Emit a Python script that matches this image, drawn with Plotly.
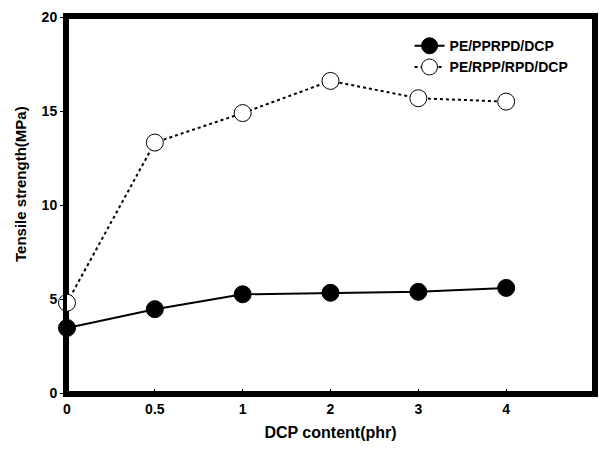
import plotly.graph_objects as go

categories = ["0", "0.5", "1", "2", "3", "4"]
pe_pprpd_dcp = [3.46, 4.46, 5.25, 5.33, 5.38, 5.59]
pe_rpp_rpd_dcp = [4.8, 13.32, 14.89, 16.6, 15.68, 15.5]
y_ticks = [0, 5, 10, 15, 20]

font_family = "Liberation Sans, Arial, sans-serif"

fig = go.Figure()
fig.add_trace(go.Scatter(
    x=categories, y=pe_pprpd_dcp, name="<b>PE/PPRPD/DCP</b>",
    mode="lines+markers",
    line=dict(color="black", width=2),
    marker=dict(symbol="circle", size=17, color="black", line=dict(color="black", width=1)),
    cliponaxis=False,
))
fig.add_trace(go.Scatter(
    x=categories, y=pe_rpp_rpd_dcp, name="<b>PE/RPP/RPD/DCP</b>",
    mode="lines+markers",
    line=dict(color="black", width=2, dash="dot"),
    marker=dict(symbol="circle", size=17, color="white", line=dict(color="black", width=1)),
    cliponaxis=False,
))

fig.add_shape(
    type="rect", xref="paper", yref="paper", x0=0, y0=0, x1=1, y1=1,
    line=dict(color="black", width=4), fillcolor="rgba(0,0,0,0)", layer="below",
)

fig.add_annotation(
    text="<b>Tensile strength(MPa)</b>", textangle=-90,
    xref="paper", yref="paper", x=-0.088, y=0.555,
    xanchor="center", yanchor="middle", showarrow=False,
    font=dict(size=15, family=font_family, color="black"),
)

fig.update_layout(
    width=607, height=454,
    margin=dict(l=67, r=9, t=12, b=61),
    paper_bgcolor="white", plot_bgcolor="white",
    font=dict(family=font_family, color="black", size=14),
    showlegend=True,
    legend=dict(
        x=0.65, y=0.965, xanchor="left", yanchor="top",
        bgcolor="rgba(0,0,0,0)", borderwidth=0,
        font=dict(size=14, family=font_family),
        tracegroupgap=0,
    ),
    xaxis=dict(
        type="category", categoryorder="array", categoryarray=categories,
        range=[0, 6],
        showline=True, linewidth=4, linecolor="black", mirror=True,
        showgrid=False, zeroline=False,
        ticks="inside", ticklen=4, tickwidth=1, tickcolor="black",
        tickfont=dict(size=14, family=font_family),
        tickprefix="<b>", ticksuffix="</b>",
        title=dict(text="<b>DCP content(phr)</b>", font=dict(size=16, family=font_family), standoff=12),
    ),
    yaxis=dict(
        range=[0, 20], tickvals=y_ticks,
        ticktext=[f"<b>{v}</b>" for v in y_ticks],
        showline=True, linewidth=4, linecolor="black", mirror=True,
        showgrid=False, zeroline=False,
        ticks="outside", ticklen=3, tickwidth=1, tickcolor="black",
        tickfont=dict(size=14, family=font_family),
    ),
)

fig.write_html("out.html")
